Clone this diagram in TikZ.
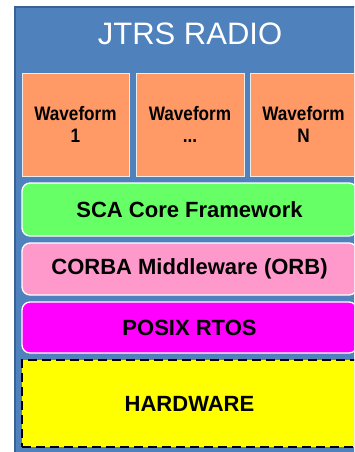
\documentclass[tikz,border=0pt]{standalone}
\usepackage{fontspec}
\setmainfont{Liberation Sans}
\newfontfamily\wffont[FakeStretch=0.88]{Liberation Sans}
\definecolor{panelblue}{HTML}{4F81BD}
\definecolor{paneledge}{HTML}{3A6194}
\definecolor{wforange}{HTML}{FF9966}
\definecolor{scagreen}{HTML}{66FF66}
\definecolor{orbpink}{HTML}{FF99CC}
\definecolor{rtosmag}{HTML}{FF00FF}
\definecolor{hwyellow}{HTML}{FFFF00}
\tikzset{
  wfbox/.style={rectangle, fill=wforange, draw=white!92!black, line width=1pt,
    minimum width=107pt, minimum height=103pt, align=center,
    font=\wffont\fontsize{19.5}{22}\selectfont\bfseries},
  layer/.style={rectangle, rounded corners=8pt, draw=white, line width=1.3pt,
    minimum width=335pt, font=\fontsize{22}{26}\selectfont\bfseries}
}
\begin{document}
\begin{tikzpicture}[x=1pt,y=-1pt]
\useasboundingbox (0,0) rectangle (354,452);
\clip (0,0) rectangle (354,452);
\fill[panelblue] (14,6) rectangle (380,470);
\draw[paneledge, line width=2pt] (15,470) -- (15,7) -- (380,7);
\node[text=white, font=\fontsize{31}{37}\selectfont] (title) at (190,34) {JTRS RADIO};
\node[wfbox] (wf1) at (75.5,124.5) {Waveform\\1};
\node[wfbox, minimum width=108pt] (wf2) at (190,124.5) {Waveform\\...};
\node[wfbox] (wfn) at (303.5,124.5) {Waveform\\N};
\node[layer, fill=scagreen, minimum height=53pt] (sca) at (189.5,209.5) {SCA Core Framework};
\node[layer, fill=orbpink, minimum height=52pt] (orb) at (189.5,269) {CORBA Middleware (ORB)};
\node[layer, fill=rtosmag, minimum height=51pt] (rtos) at (189.5,327.5) {POSIX RTOS};
\node[layer, rounded corners=0pt, fill=hwyellow, draw=black, line width=2.8pt,
  dash pattern=on 9pt off 5pt, minimum height=87pt] (hw) at (189.5,403.5) {HARDWARE};
\end{tikzpicture}
\end{document}
